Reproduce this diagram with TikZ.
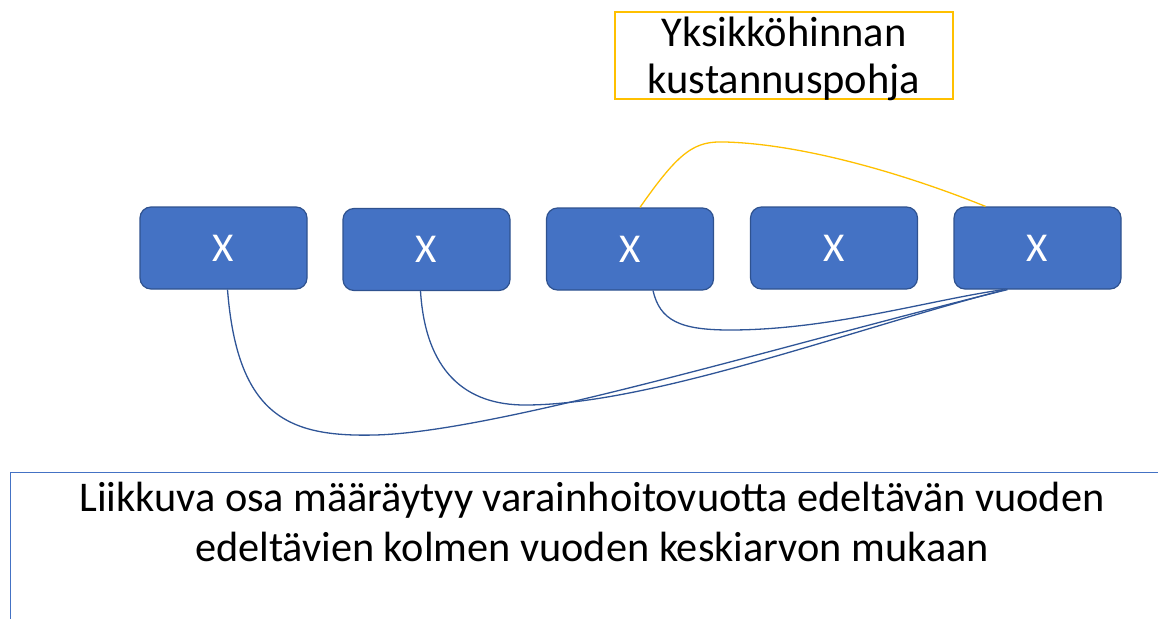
\documentclass[tikz,border=0pt]{standalone}
\usepackage{fontspec}
\setmainfont{Carlito}
\usetikzlibrary{calc}
\definecolor{boxfill}{HTML}{4472C4}
\definecolor{boxline}{HTML}{2F528F}
\definecolor{gold}{HTML}{FFC000}
\definecolor{conn}{HTML}{2F5597}
\tikzset{
  xbox/.style={draw=boxline, fill=boxfill, line width=1.2pt, rounded corners=11pt,
    minimum width=167pt, minimum height=82pt, text=white, inner sep=0pt,
    font=\fontsize{41}{46}\selectfont},
  link/.style={draw=conn, line width=1.3pt},
  goldlink/.style={draw=gold, line width=1.3pt},
}
\begin{document}
\begin{tikzpicture}[x=1pt,y=-1pt]
\useasboundingbox (0,0) rectangle (1158,618);
\begin{scope}
\clip (0,0) rectangle (1158,618);
\node[draw=boxfill, line width=1.3pt, anchor=north west, minimum width=1200pt, minimum height=250pt, inner sep=0pt] (note) at (10,472) {};
\end{scope}
\node[align=center, font=\fontsize{42.3}{50}\selectfont] (notetext) at (592,522) {Liikkuva osa määräytyy varainhoitovuotta edeltävän vuoden\\edeltävien kolmen vuoden keskiarvon mukaan};
\node[draw=gold, line width=1.3pt, minimum width=338pt, minimum height=87pt, inner sep=0pt] (base) at (784,55.5) {};
\node[inner sep=0pt, align=center, font=\fontsize{42.5}{47}\selectfont] (basetext) at ($(base.center)+(0,3)$) {Yksikköhinnan\\kustannuspohja};
\node[xbox] (b1) at (223.5,248) {X};
\node[xbox] (b2) at (426.5,249.5) {X};
\node[xbox] (b3) at (630,249) {X};
\node[xbox] (b4) at (834,248) {X};
\node[xbox] (b5) at (1037.5,248) {X};
% connectors
\draw[link] ($(b1.south)+(4,0)$) .. controls ($(b1.south)+(14,128)$) and (290,437) .. (375,435)
  .. controls (500,432) and (800,340) .. ($(b5.south)+(-30,0)$);
\draw[link] ($(b2.south)+(-6,0)$) .. controls ($(b2.south)+(-1,80)$) and (465,405) .. (525,405)
  .. controls (650,405) and (850,330) .. ($(b5.south)+(-32,0)$);
\draw[link] ($(b3.south)+(23,0)$) .. controls ($(b3.south)+(30,30)$) and (680,330) .. (730,330)
  .. controls (830,330) and (930,300) .. ($(b5.south)+(-34,0)$);
\draw[goldlink] ($(b3.north)+(10,0)$) .. controls (680,150) and (695,141) .. (725,142)
  .. controls (800,144) and (900,172) .. ($(b5.north)+(-52,0)$);
\end{tikzpicture}
\end{document}
